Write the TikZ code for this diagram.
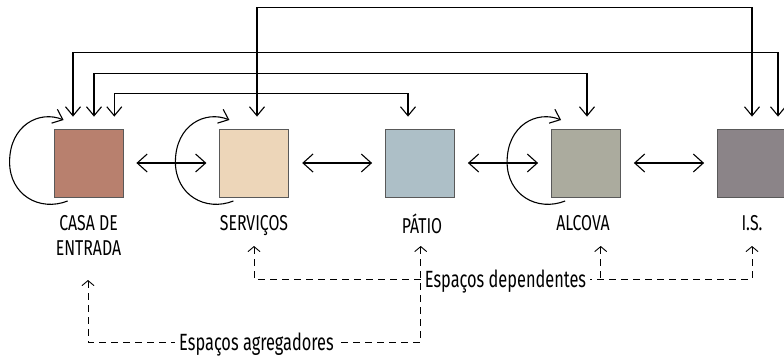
\documentclass[tikz,border=0pt]{standalone}
\usepackage{fontspec}
\setmainfont[FakeStretch=0.737]{Fira Sans}
\newfontfamily\grpfont[FakeStretch=0.696]{Fira Sans}
\usetikzlibrary{arrows.meta,calc}
\definecolor{cCasa}{HTML}{B8806E}
\definecolor{cServ}{HTML}{EDD6B9}
\definecolor{cPat}{HTML}{ADBFC7}
\definecolor{cAlc}{HTML}{ABAB9E}
\definecolor{cIs}{HTML}{8B8488}
\begin{document}
\begin{tikzpicture}[x=1pt,y=-1pt,
  room/.style={draw=black!65, line width=0.8pt, minimum width=69pt, minimum height=68pt, inner sep=0pt},
  conn/.style={line width=1.1pt, {Straight Barb[length=9pt,width=15pt]}-{Straight Barb[length=9pt,width=15pt]}},
  dbl/.style={line width=1.1pt, {Straight Barb[length=10pt,width=18pt]}-{Straight Barb[length=10pt,width=18pt]}, shorten >=13pt, shorten <=13pt},
  selfloop/.style={line width=1.1pt, -{Straight Barb[length=9pt,width=15pt]}},
  dsh/.style={line width=0.9pt, dash pattern=on 7pt off 5pt},
  dtip/.style={{Straight Barb[length=5pt,width=12pt]}-},
  lbl/.style={font=\fontsize{21.5}{26}\selectfont, anchor=base, inner sep=0pt},
  txt/.style={font=\grpfont\fontsize{23.5}{28}\selectfont, text height=16.2pt, text depth=0pt, inner ysep=0pt, inner xsep=4pt}
]
\useasboundingbox (0,0) rectangle (784,356);
\clip (0,0) rectangle (784,356);
\fill[white] (0,0) rectangle (784,356);

% rooms
\node[room, fill=cCasa] (casa) at (88.5,163) {};
\node[room, fill=cServ] (serv) at (254.3,163) {};
\node[room, fill=cPat]  (pat)  at (420,163) {};
\node[room, fill=cAlc]  (alc)  at (586,163) {};
\node[room, fill=cIs]   (is)   at (752,163) {};

% neighbour arrows
\draw[dbl] (casa) -- (serv);
\draw[dbl] (serv) -- (pat);
\draw[dbl] (pat) -- (alc);
\draw[dbl] (alc) -- (is);

% self loops
\foreach \r in {casa,serv,alc} {
  \draw[selfloop] ($(\r.west)+(14,38)$) .. controls ($(\r.west)+(-14,49)$) and ($(\r.west)+(-44,32)$) .. ($(\r.west)+(-44,-1)$)
     .. controls ($(\r.west)+(-44,-38)$) and ($(\r.west)+(-14,-53)$) .. ($(\r.west)+(10,-43)$);
}

% top connectors
\draw[conn] ($(serv.north)+(2.7,-12)$) -- ++(0,-109) -| ($(is.north)+(0,-12)$);
\draw[conn] ($(casa.north)+(-15.5,-12)$) -- ++(0,-64) -| ($(is.north)+(26,-12)$);
\draw[conn] ($(casa.north)+(5.5,-12)$) -- ++(0,-43) -| ($(alc.north)+(1,-12)$);
\draw[conn] ($(casa.north)+(25.8,-12)$) -- ++(0,-23) -| ($(pat.north)+(-12,-12)$);

% labels
\node[lbl] (lcasa1) at (88.5,230) {CASA DE};
\node[lbl] (lcasa2) at (88.5,255.5) {ENTRADA};
\node[lbl] (lserv) at (254,230) {SERVIÇOS};
\node[lbl] (lpat) at (422,233) {PÁTIO};
\node[lbl] (lalc) at (583,230) {ALCOVA};
\node[lbl] (lis) at (752,230) {I.S.};

% dashed groupings
\coordinate (ds) at (254,246);
\coordinate (dp) at (420.7,246);
\coordinate (da) at (600.7,246);
\coordinate (di) at (752,246);
\coordinate (dc) at (88,280);
\node[txt] (dep) at (505.5,279) {Espaços dependentes};
\node[txt] (agr) at (256.5,342) {Espaços agregadores};

\draw[dsh, dtip] (ds) |- (dep.west);
\draw[dsh, dtip] (di) |- (dep.east);
\draw[dsh, dtip] (da) -- (da |- dep.east);
\draw[dsh, dtip] (dp) |- (agr.east);
\draw[dsh, dtip] (dc) |- (agr.west);
\end{tikzpicture}
\end{document}
